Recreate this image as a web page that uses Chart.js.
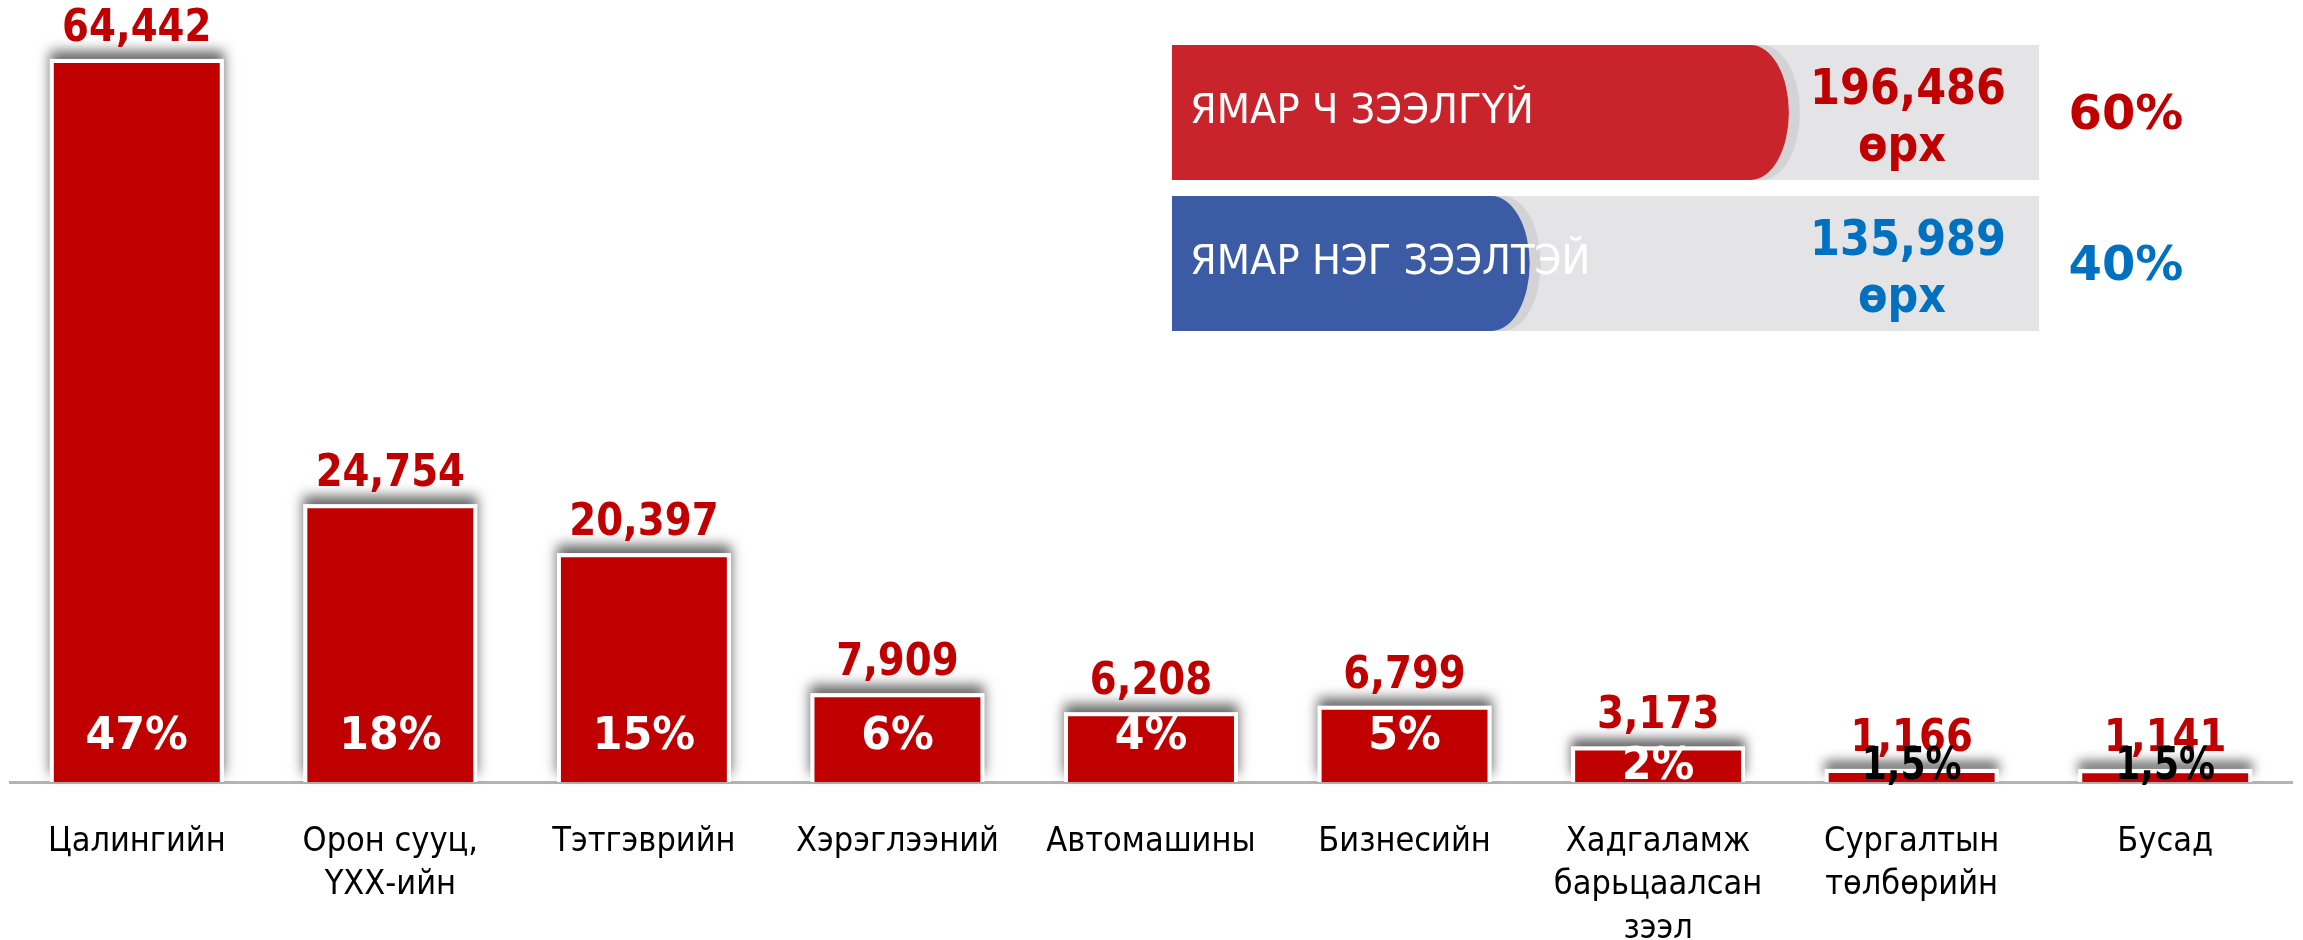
<!DOCTYPE html>
<html>
<head>
<meta charset="utf-8">
<script src="https://cdn.jsdelivr.net/npm/chart.js@4.4.1/dist/chart.umd.min.js"></script>
<style>
  body { margin: 0; background: #fff; }
  #wrap { position: relative; width: 2303px; height: 940px; }
  #loanChart { position: absolute; left: 0; top: 0; }
  #debtChart { position: absolute; left: 1172px; top: 37px; }
</style>
</head>
<body>
<div id="wrap">
  <canvas id="loanChart" width="2303" height="940"></canvas>
  <canvas id="debtChart" width="1060" height="302"></canvas>
</div>
<script>
// loan types and number of borrowers
const categories = [
  ["Цалингийн"],
  ["Орон сууц,", "ҮХХ-ийн"],
  ["Тэтгэврийн"],
  ["Хэрэглээний"],
  ["Автомашины"],
  ["Бизнесийн"],
  ["Хадгаламж", "барьцаалсан", "зээл"],
  ["Сургалтын", "төлбөрийн"],
  ["Бусад"]
];
const borrowers = [64442, 24754, 20397, 7909, 6208, 6799, 3173, 1166, 1141];
const shareLabels = ["47%", "18%", "15%", "6%", "4%", "5%", "2%", "1,5%", "1,5%"];
const shareColors = ["#fff", "#fff", "#fff", "#fff", "#fff", "#fff", "#fff", "#000", "#000"];

// households with / without any loan
const debtGroups = ["ЯМАР Ч ЗЭЭЛГҮЙ", "ЯМАР НЭГ ЗЭЭЛТЭЙ"];
const debtShare = [60, 40];
const debtCount = [196486, 135989];
const debtShareLabels = ["60%", "40%"];

const RED = "#C00000";
const BOLD = "DejaVu Sans";

function drawText(ctx, text, x, y, font, color, sx, align, baseline) {
  ctx.save();
  ctx.font = font;
  ctx.fillStyle = color;
  ctx.textAlign = align || "center";
  ctx.textBaseline = baseline || "alphabetic";
  ctx.translate(x, y);
  ctx.scale(sx, 1);
  ctx.fillText(text, 0, 0);
  ctx.restore();
}

// soft grey shadow behind each bar
const barShadow = {
  id: "barShadow",
  beforeDatasetsDraw(chart) {
    const ctx = chart.ctx;
    chart.getDatasetMeta(0).data.forEach((bar) => {
      const p = bar.getProps(["x", "y", "base", "width"], true);
      ctx.save();
      ctx.shadowColor = "rgba(0,0,0,0.6)";
      ctx.shadowBlur = 12;
      ctx.shadowOffsetY = -8;
      ctx.fillStyle = "#fff";
      ctx.fillRect(p.x - p.width / 2, p.y, p.width, p.base - p.y);
      ctx.restore();
    });
  }
};

const barLabels = {
  id: "barLabels",
  afterDatasetsDraw(chart) {
    const ctx = chart.ctx;
    chart.getDatasetMeta(0).data.forEach((bar, i) => {
      const p = bar.getProps(["x", "y", "base"], true);
      drawText(ctx, borrowers[i].toLocaleString("en-US"), p.x, p.y - 18,
        "bold 45px '" + BOLD + "'", RED, 0.86);
      const h = p.base - p.y;
      const cy = h > 60 ? p.base - 45 : p.base - 15;
      drawText(ctx, shareLabels[i], p.x, cy, "bold 45px '" + BOLD + "'",
        shareColors[i], shareLabels[i].length > 3 ? 0.8 : 0.95, "center", "middle");
    });
  }
};

new Chart(document.getElementById("loanChart"), {
  type: "bar",
  data: {
    labels: categories,
    datasets: [{
      data: borrowers,
      backgroundColor: RED,
      borderColor: "#fff",
      borderWidth: 4,
      barPercentage: 0.686,
      categoryPercentage: 1
    }]
  },
  options: {
    responsive: false,
    animation: false,
    events: [],
    layout: { padding: { left: 10, right: 11, top: 19, bottom: 0 } },
    plugins: { legend: { display: false }, tooltip: { enabled: false } },
    scales: {
      x: {
        grid: { display: false },
        border: { display: true, color: "#b4b4b4", width: 3 },
        ticks: {
          color: "#000",
          padding: 30,
          maxRotation: 0,
          autoSkip: false,
          font: { family: "'DejaVu Sans Condensed', 'DejaVu Sans'", size: 34, lineHeight: 1.28 }
        },
        afterFit(scale) { scale.height = 158; }
      },
      y: { display: false, min: 0, max: 68000 }
    }
  },
  plugins: [barShadow, barLabels]
});

// pill shaped bars on a grey track, with counts and shares beside them
const debtColors = ["#C9242B", "#3C5BA5"];
const debtTextColors = [RED, "#0070C0"];

const pillBars = {
  id: "pillBars",
  beforeDatasetsDraw(chart) {
    const ctx = chart.ctx;
    const area = chart.chartArea;
    chart.getDatasetMeta(0).data.forEach((bar, i) => {
      const p = bar.getProps(["x", "y", "height"], true);
      const top = p.y - p.height / 2;
      const rx = 38;
      ctx.save();
      ctx.fillStyle = "#E4E4E6";
      ctx.fillRect(area.left, top, area.right - area.left, p.height);
      const pill = (right, color) => {
        ctx.beginPath();
        ctx.moveTo(area.left, top);
        ctx.lineTo(right - rx, top);
        ctx.ellipse(right - rx, p.y, rx, p.height / 2, 0, -Math.PI / 2, Math.PI / 2);
        ctx.lineTo(area.left, top + p.height);
        ctx.closePath();
        ctx.fillStyle = color;
        ctx.fill();
      };
      pill(p.x + 11, "#D3D3D5");
      pill(p.x, debtColors[i]);
      ctx.restore();

      drawText(ctx, debtGroups[i], area.left + 18, p.y, "41px 'DejaVu Sans'", "#fff", 0.94, "left", "middle");
      drawText(ctx, debtCount[i].toLocaleString("en-US"), area.right - 131, p.y - 9,
        "bold 50px '" + BOLD + "'", debtTextColors[i], 0.86);
      drawText(ctx, "өрх", area.right - 137, p.y + 48,
        "bold 50px '" + BOLD + "'", debtTextColors[i], 0.86);
      drawText(ctx, debtShareLabels[i], area.right + 87, p.y + 4,
        "bold 48px '" + BOLD + "'", debtTextColors[i], 1, "center", "middle");
    });
  }
};

new Chart(document.getElementById("debtChart"), {
  type: "bar",
  data: {
    labels: debtGroups,
    datasets: [{
      data: debtShare,
      backgroundColor: "rgba(0,0,0,0)",
      barPercentage: 0.894,
      categoryPercentage: 1
    }]
  },
  options: {
    indexAxis: "y",
    responsive: false,
    animation: false,
    events: [],
    layout: { padding: { left: 0, right: 193, top: 0, bottom: 0 } },
    plugins: { legend: { display: false }, tooltip: { enabled: false } },
    scales: {
      x: { display: false, min: 12.4, max: 79.3 },
      y: { display: false }
    }
  },
  plugins: [pillBars]
});
</script>
</body>
</html>
